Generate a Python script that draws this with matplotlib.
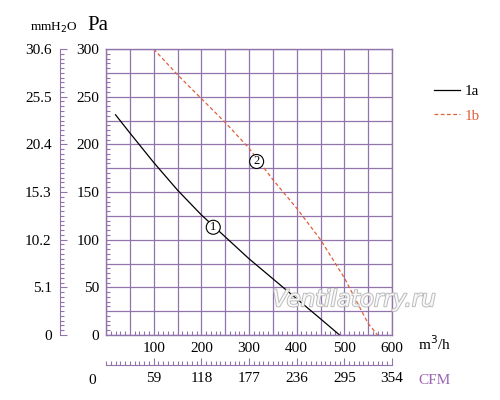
import matplotlib
matplotlib.use("Agg")
import matplotlib.pyplot as plt
import matplotlib.patheffects as pe
import numpy as np

# curve 1a (solid black) and 1b (dashed red), flow in m3/h, pressure in Pa
flow_1a = [20, 50, 100, 150, 200, 250, 300, 350, 400, 450, 490]
pres_1a = [231, 212, 181, 152, 126, 103, 80, 59, 38, 17, 0]
flow_1b = [100, 150, 200, 250, 300, 350, 400, 450, 500, 525, 550, 570]
pres_1b = [300, 273, 248, 223, 196, 163, 133, 100, 60, 36, 12, 0]

x_ticks = [100, 200, 300, 400, 500, 600]
y_ticks = [0, 50, 100, 150, 200, 250, 300]
mmh2o_labels = ["0", "5.1", "10.2", "15.3", "20.4", "25.5", "30.6"]
cfm_labels = ["59", "118", "177", "236", "295", "354"]

purple = "#9274ad"
serif = "Liberation Serif"
plt.rcParams['font.family'] = [serif, 'DejaVu Serif']

fig = plt.figure(figsize=(5, 4), dpi=100)
ax = fig.add_axes([0.212, 0.1625, 0.572, 0.715])

ax.plot(flow_1a, pres_1a, color="black", lw=0.9, label="1a")
ax.plot(flow_1b, pres_1b, color="#e0603c", lw=0.9, ls=(0, (3, 2)), label="1b")

ax.set_xlim(0, 600)
ax.set_ylim(0, 300)
ax.set_xticks(np.arange(0, 601, 50))
ax.set_xticklabels(["" if v not in x_ticks else str(v) for v in range(0, 601, 50)])
ax.set_xticks(np.arange(0, 601, 10), minor=True)
ax.set_yticks(np.arange(0, 301, 5), minor=True)
ax.set_yticks(np.arange(0, 301, 25))
ax.set_yticklabels([str(v) if v in y_ticks else "" for v in range(0, 301, 25)])
ax.grid(True, which="major", color=purple, lw=0.9)
ax.tick_params(which="both", direction="in", color=purple, top=False, right=False)
ax.tick_params(which="major", length=0, labelsize=11, pad=5)
ax.tick_params(which="minor", length=3, width=0.8)
for s in ax.spines.values():
    s.set_color(purple)
    s.set_linewidth(1.0)

# circled curve numbers
circ = dict(boxstyle="circle,pad=0.08", fc="white", ec="black", lw=0.8)
ax.text(225, 113, "1", ha="center", va="center", fontsize=9, bbox=circ)
ax.text(316, 182, "2", ha="center", va="center", fontsize=9, bbox=circ)

# watermark
ax.text(520, 37, "Ventilatorry.ru", ha="center", va="center", fontsize=16.5,
        style="italic", family="DejaVu Sans", color="white", alpha=0.9,
        path_effects=[pe.withStroke(linewidth=1.4, foreground="#b4b4b4")])

# mmH2O axis on the left
ax2 = fig.add_axes([0.12, 0.1625, 0.0001, 0.715])
ax2.set_ylim(0, 300)
ax2.set_xticks([])
ax2.set_yticks(y_ticks)
ax2.set_yticklabels(mmh2o_labels)
ax2.set_yticks(np.arange(0, 301, 5), minor=True)
for name in ["top", "right", "bottom"]:
    ax2.spines[name].set_visible(False)
ax2.spines["left"].set_color(purple)
ax2.tick_params(which="both", direction="in", color=purple)
ax2.tick_params(which="major", length=5, labelsize=11, pad=6)
ax2.tick_params(which="minor", length=3, width=0.8)

# CFM axis below
ax3 = fig.add_axes([0.212, 0.0875, 0.572, 0.0001])
ax3.set_xlim(0, 600)
ax3.set_yticks([])
ax3.set_xticks(x_ticks)
ax3.set_xticklabels(cfm_labels)
ax3.set_xticks(np.arange(0, 601, 10), minor=True)
for name in ["top", "right", "left"]:
    ax3.spines[name].set_visible(False)
ax3.spines["bottom"].set_color(purple)
ax3.tick_params(which="both", direction="in", color=purple)
ax3.tick_params(which="major", length=5, labelsize=11, pad=5)
ax3.tick_params(which="minor", length=3, width=0.8)

fig.text(0.184, 0.048, "0", fontsize=11, ha="center", va="center")
fig.text(0.835, 0.14, "m$^3$/h", fontsize=11, ha="left", va="center")
fig.text(0.836, 0.05, "CFM", fontsize=11, ha="left", va="center", color="#9a62b0")
fig.text(0.06, 0.93, "mmH$_2$O", fontsize=9.5, ha="left", va="center")
fig.text(0.175, 0.935, "Pa", fontsize=15, ha="left", va="center")

leg = fig.legend(loc="upper left", bbox_to_anchor=(0.84, 0.8225), frameon=False,
                 fontsize=11, handlelength=1.7, handletextpad=0.3, labelspacing=0.7)
for t, c in zip(leg.get_texts(), ["black", "#e0603c"]):
    t.set_color(c)

fig.savefig("out.png", dpi=100)
